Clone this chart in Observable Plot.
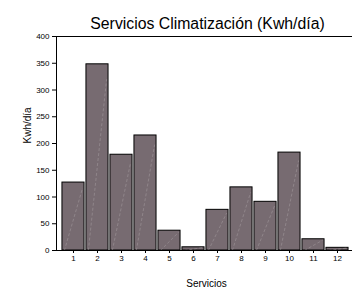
<!DOCTYPE html>
<html><head><meta charset="utf-8">
<script src="https://cdn.jsdelivr.net/npm/d3@7"></script>
<script src="https://cdn.jsdelivr.net/npm/@observablehq/plot@0.6"></script>
<style>body{margin:0;background:#fff;} svg{display:block;}</style>
</head><body><div id="chart"></div>
<script>
const servicios = [1,2,3,4,5,6,7,8,9,10,11,12];
const kwh = [127, 348, 179, 215, 37, 6, 76, 118, 91, 183, 21, 5];
const yTicks = [0,50,100,150,200,250,300,350,400];
const title = "Servicios Climatización (Kwh/día)";
const xLabel = "Servicios";
const yLabel = "Kwh/día";

const data = servicios.map((s,i)=>({s, v: kwh[i]}));
const half = 0.46;

const chart = Plot.plot({
  width: 352, height: 291,
  marginLeft: 56, marginRight: 0, marginTop: 36, marginBottom: 41,
  style: {fontFamily: "Arial, 'Liberation Sans', sans-serif", fontSize: "8px", color: "#000", background: "#fff"},
  x: {domain: [0.292, 12.625], ticks: servicios, tickFormat: d=>String(d), tickSize: 3, label: null},
  y: {domain: [0, 400], ticks: yTicks, tickSize: 4, label: null},
  marks: [
    Plot.rectY(data, {x1: d=>d.s-half, x2: d=>d.s+half, y: "v", fill: "#776b71", stroke: "#000", strokeWidth: 1}),
    Plot.link(data, {x1: d=>d.s-half+0.08, y1: 0, x2: d=>d.s+half-0.08, y2: d=>d.v*0.92, stroke: "#b0a8ac", strokeWidth: 0.7, strokeDasharray: "3,2", strokeOpacity: 0.6}),
    Plot.frame({anchor: "left", stroke: "#000"}),
    Plot.frame({anchor: "top", stroke: "#000"}),
    Plot.frame({anchor: "bottom", stroke: "#000"}),
    Plot.axisX({ticks: servicios, tickSize: 3, tickPadding: 2, label: null, fontSize: 8}),
    Plot.axisY({ticks: yTicks, tickSize: 4, tickPadding: 3, label: null, fontSize: 8}),
    Plot.text([title], {frameAnchor: "top", dy: -19, dx: 3, fontSize: 15.8, text: d=>d}),
    Plot.text([xLabel], {frameAnchor: "bottom", dy: 36, dx: 2, fontSize: 10, text: d=>d}),
    Plot.text([yLabel], {frameAnchor: "left", dx: -29, dy: 0, rotate: -90, fontSize: 10, text: d=>d})
  ]
});
document.getElementById("chart").appendChild(chart);
</script></body></html>
